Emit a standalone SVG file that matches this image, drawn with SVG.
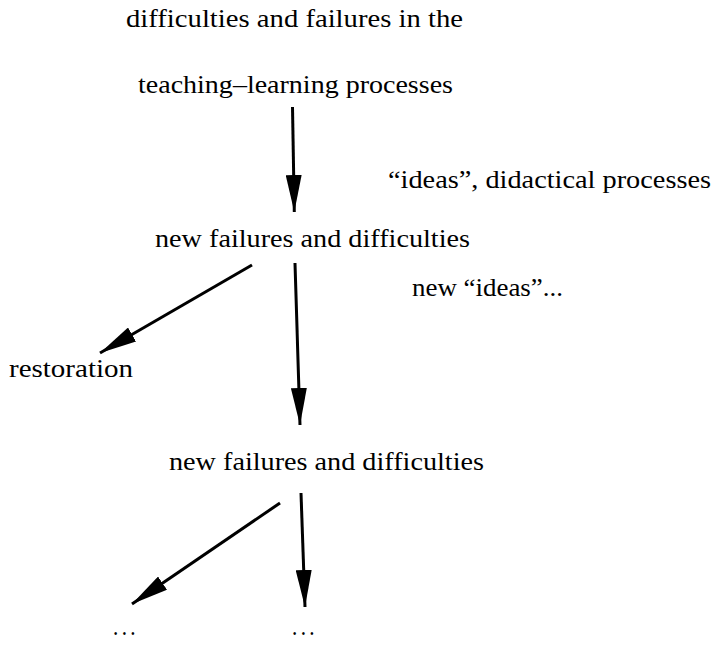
<svg xmlns="http://www.w3.org/2000/svg" width="716" height="647" viewBox="0 0 716 647">
<style>
text{font-family:"Liberation Serif","Times New Roman",serif;font-size:25px;fill:#000}
.ln{stroke:#000;stroke-width:3;fill:none}
</style>
<defs>
<marker id="ah" viewBox="0 0 37 16" refX="37" refY="8" markerWidth="37" markerHeight="16" markerUnits="userSpaceOnUse" orient="auto">
<path d="M0,0 L37,8 L0,16 Z" fill="#000"/>
</marker>
</defs>
<rect width="716" height="647" fill="#fff"/>
<g id="n1"><text x="126" y="27" textLength="337" lengthAdjust="spacingAndGlyphs">difficulties and failures in the</text>
<text x="138" y="93" textLength="315" lengthAdjust="spacingAndGlyphs">teaching–learning processes</text></g>
<g id="lbl1"><text x="388" y="188" textLength="323" lengthAdjust="spacingAndGlyphs">“ideas”, didactical processes</text></g>
<g id="n2"><text x="155" y="247" textLength="315" lengthAdjust="spacingAndGlyphs">new failures and difficulties</text></g>
<g id="lbl2"><text x="412" y="296" textLength="151" lengthAdjust="spacingAndGlyphs">new “ideas”...</text></g>
<g id="n3"><text x="9" y="377" textLength="124" lengthAdjust="spacingAndGlyphs">restoration</text></g>
<g id="n4"><text x="169" y="470" textLength="315" lengthAdjust="spacingAndGlyphs">new failures and difficulties</text></g>
<g id="n5"><text x="113" y="635" textLength="26" lengthAdjust="spacingAndGlyphs" letter-spacing="4">...</text></g>
<g id="n6"><text x="292" y="635" textLength="26" lengthAdjust="spacingAndGlyphs" letter-spacing="4">...</text></g>
<g id="connectors">
<line class="ln" x1="292.5" y1="107" x2="294.3" y2="212" marker-end="url(#ah)"/>
<line class="ln" x1="295" y1="263" x2="300" y2="425" marker-end="url(#ah)"/>
<line class="ln" x1="252" y1="265" x2="100" y2="353" marker-end="url(#ah)"/>
<line class="ln" x1="280" y1="503" x2="132" y2="604" marker-end="url(#ah)"/>
<line class="ln" x1="301" y1="493" x2="305" y2="607" marker-end="url(#ah)"/>
</g>
</svg>
